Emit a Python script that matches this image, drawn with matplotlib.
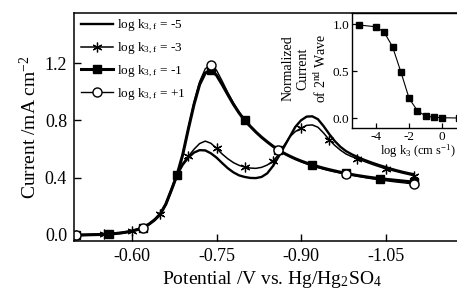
import matplotlib
matplotlib.use("Agg")
import matplotlib.pyplot as plt

plt.rcParams['font.family'] = ['Liberation Serif', 'DejaVu Serif']
plt.rcParams['mathtext.default'] = 'regular'
plt.rcParams['axes.unicode_minus'] = False

# ---- data ----
potential = [-0.50, -0.51, -0.52, -0.53, -0.54, -0.55, -0.56, -0.57, -0.58, -0.59,
             -0.60, -0.61, -0.62, -0.63, -0.64, -0.65, -0.66, -0.67, -0.68, -0.69,
             -0.70, -0.71, -0.72, -0.73, -0.74, -0.75, -0.76, -0.77, -0.78, -0.79,
             -0.80, -0.81, -0.82, -0.83, -0.84, -0.85, -0.86, -0.87, -0.88, -0.89,
             -0.90, -0.91, -0.92, -0.93, -0.94, -0.95, -0.96, -0.97, -0.98, -0.99,
             -1.00, -1.01, -1.02, -1.03, -1.04, -1.05, -1.06, -1.07, -1.08, -1.09,
             -1.10]

# common foot of the wave (-0.50 ... -0.68 V)
rise = [0.000, 0.000, 0.001, 0.002, 0.003, 0.005, 0.007, 0.010, 0.014, 0.020,
        0.028, 0.038, 0.052, 0.075, 0.105, 0.145, 0.215, 0.315, 0.420]

current_m5 = rise + [
    0.490, 0.540, 0.575, 0.592, 0.590, 0.570, 0.540, 0.502, 0.466, 0.437,
    0.416, 0.405, 0.398, 0.397, 0.405, 0.430, 0.480, 0.545, 0.615, 0.685,
    0.755, 0.800, 0.826, 0.828, 0.808, 0.760, 0.705, 0.655, 0.615, 0.585,
    0.563, 0.545, 0.528, 0.513, 0.499, 0.486, 0.474, 0.462, 0.451, 0.441,
    0.432, 0.424]

current_m3 = rise + [
    0.500, 0.548, 0.598, 0.638, 0.655, 0.640, 0.605, 0.565, 0.532, 0.505,
    0.486, 0.474, 0.467, 0.465, 0.472, 0.488, 0.515, 0.560, 0.625, 0.685,
    0.722, 0.745, 0.765, 0.768, 0.752, 0.712, 0.665, 0.625, 0.592, 0.565,
    0.547, 0.533, 0.517, 0.502, 0.488, 0.475, 0.463, 0.452, 0.442, 0.432,
    0.423, 0.414]

current_m1 = rise + [
    0.560, 0.740, 0.910, 1.050, 1.130, 1.150, 1.115, 1.050, 0.980, 0.912,
    0.852, 0.800, 0.758, 0.718, 0.682, 0.650, 0.620, 0.593, 0.570, 0.550,
    0.532, 0.516, 0.502, 0.489, 0.477, 0.466, 0.456, 0.447, 0.438, 0.430,
    0.422, 0.415, 0.409, 0.403, 0.398, 0.394, 0.389, 0.385, 0.381, 0.377,
    0.373, 0.369]

current_p1 = rise + [
    0.565, 0.750, 0.925, 1.070, 1.160, 1.187, 1.150, 1.075, 0.995, 0.922,
    0.858, 0.803, 0.759, 0.718, 0.681, 0.648, 0.618, 0.592, 0.568, 0.547,
    0.528, 0.511, 0.496, 0.482, 0.470, 0.459, 0.449, 0.440, 0.432, 0.425,
    0.417, 0.410, 0.403, 0.396, 0.390, 0.384, 0.379, 0.374, 0.369, 0.365,
    0.360, 0.356]

log_k3 = [-5.0, -4.0, -3.5, -3.0, -2.5, -2.0, -1.5, -1.0, -0.5, 0.0, 1.0]
norm_current = [0.989, 0.971, 0.912, 0.759, 0.494, 0.212, 0.081, 0.024, 0.011, 0.006, 0.003]

labels = ['log k$_{3,f}$ = -5', 'log k$_{3,f}$ = -3',
          'log k$_{3,f}$ = -1', 'log k$_{3,f}$ = +1']
xticks = [-0.60, -0.75, -0.90, -1.05]
yticks = [0.0, 0.4, 0.8, 1.2]
inset_xticks = [-4, -2, 0]
inset_yticks = [0.0, 0.5, 1.0]

# ---- figure ----
W, H = 457, 293
fig = plt.figure(figsize=(W / 100, H / 100), dpi=100)

def px_axes(l, t, r, b):
    return [l / W, (H - b) / H, (r - l) / W, (b - t) / H]

ax = fig.add_axes(px_axes(74, 13, 470, 241))
ax.plot(potential, current_m5, color='black', lw=1.7, label=labels[0])
ax.plot(potential, current_m3, color='black', lw=1.1, marker=(6, 2, 0), ms=7,
        mew=0.9, markevery=5, label=labels[1])
ax.plot(potential, current_m1, color='black', lw=2.2, marker='s', ms=5.5,
        markevery=6, label=labels[2])
ax.plot(potential, current_p1, color='black', lw=1.0, marker='o', ms=6.5,
        mfc='white', mec='black', mew=1.0, markevery=12, label=labels[3])

ax.set_xlim(-0.497, -1.2)
ax.set_ylim(-0.042, 1.549)
ax.set_xticks(xticks)
ax.set_xticklabels(['%.2f' % v for v in xticks])
ax.set_yticks(yticks)
ax.set_yticklabels(['%.1f' % v for v in yticks])
ax.tick_params(direction='in', length=5, width=1, labelsize=13, pad=5)
for s in ax.spines.values():
    s.set_linewidth(1.1)
ax.set_ylabel('Current /mA cm$^{-2}$', fontsize=14, labelpad=3)
ax.set_xlabel('Potential /V vs. Hg/Hg$_2$SO$_4$', fontsize=14, labelpad=3)

leg = ax.legend(loc='upper left', bbox_to_anchor=(0.012, 0.988), frameon=False,
                fontsize=9.5, handlelength=2.4, handletextpad=0.3,
                labelspacing=0.58, borderpad=0.2, borderaxespad=0.0)

# ---- inset ----
axi = fig.add_axes(px_axes(352, 13, 467, 128.3))
axi.plot(log_k3, norm_current, color='black', lw=0.8, marker='s', ms=4.5)
axi.set_xlim(-5.45, 1.5)
axi.set_ylim(-0.106, 1.117)
axi.set_xticks(inset_xticks)
axi.set_xticklabels([str(v) for v in inset_xticks])
axi.set_yticks(inset_yticks)
axi.set_yticklabels(['%.1f' % v for v in inset_yticks])
axi.tick_params(direction='in', length=3.5, width=0.9, labelsize=9.5, pad=2)
for s in axi.spines.values():
    s.set_linewidth(1.0)
axi.text(-0.41, 0.52, 'Normalized\nCurrent\nof 2$^{nd}$ Wave', transform=axi.transAxes,
         rotation=90, ha='center', va='center', multialignment='center',
         fontsize=10, linespacing=1.25)
axi.text(0.575, -0.197, 'log k$_3$ (cm s$^{-1}$)', transform=axi.transAxes,
         ha='center', va='center', fontsize=9)

fig.savefig('out.png', dpi=100)
